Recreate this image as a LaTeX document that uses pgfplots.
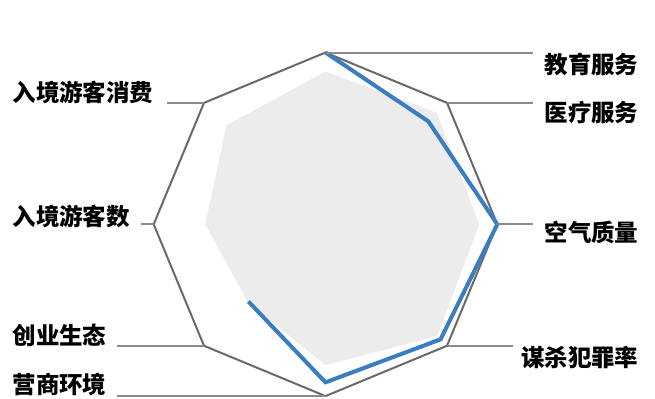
\documentclass[border=0pt]{standalone}
\usepackage{pgfplots}
\pgfplotsset{compat=1.18}
\usepgfplotslibrary{polar}
\usepackage{fontspec}
\newfontfamily\cjk{Noto Sans CJK SC}
\definecolor{gridc}{HTML}{696969}
\definecolor{leadc}{HTML}{8A8A8A}
\definecolor{bluec}{HTML}{3A7DC1}
\definecolor{fillc}{HTML}{ECECEC}
\begin{document}
\begin{tikzpicture}
\useasboundingbox (0,0) rectangle (327.5pt,199pt);
\begin{polaraxis}[
  at={(162.75pt,86.85pt)}, anchor=center,
  scale only axis, width=171.8pt, height=171.8pt,
  hide axis, clip=false,
  xmin=0, xmax=360, ymin=0, ymax=1,
]
% gray filled series
\addplot[draw=none, fill=fillc, mark=none] coordinates {
  (90,0.89) (45,0.917) (0,0.895) (315,0.92) (270,0.82) (225,0.64) (180,0.70) (135,0.815) (90,0.89)
} -- cycle;
% octagon outline
\addplot[gridc, line width=1pt, mark=none, line join=miter] coordinates {
  (90,1) (45,1) (0,1) (315,1) (270,1) (225,1) (180,1) (135,1) (90,1)
} -- cycle;
% blue series
\addplot[bluec, line width=2pt, mark=none, line join=miter] coordinates {
  (90,1.0) (45,0.847) (0,1.0) (315,0.947) (270,0.92) (225,0.635)
};
\coordinate (v90) at (axis cs:90,1);
\coordinate (v45) at (axis cs:45,1);
\coordinate (v0) at (axis cs:0,1);
\coordinate (v315) at (axis cs:315,1);
\coordinate (v270) at (axis cs:270,1);
\coordinate (v225) at (axis cs:225,1);
\coordinate (v180) at (axis cs:180,1);
\coordinate (v135) at (axis cs:135,1);
\end{polaraxis}
\begin{scope}[leadc, line width=1pt]
\draw (v90) -- (v90 -| 266.5pt,0);
\draw (v45) -- (v45 -| 266.5pt,0);
\draw (v0) -- (v0 -| 266.5pt,0);
\draw (v315) -- (v315 -| 256.5pt,0);
\draw (v135) -- (v135 -| 83.5pt,0);
\draw (v180) -- (v180 -| 70.5pt,0);
\draw (v225) -- (v225 -| 58.5pt,0);
\draw (v270) -- (v270 -| 58.5pt,0);
\end{scope}
\begin{scope}[every node/.style={inner sep=0pt, outer sep=0pt, font=\cjk\bfseries\fontsize{11.75pt}{12pt}\selectfont}]
\node[anchor=base east] at (319.25pt,162.5pt) {教育服务};
\node[anchor=base east] at (319.25pt,138.3pt) {医疗服务};
\node[anchor=base east] at (319.25pt,78.3pt) {空气质量};
\node[anchor=base east] at (319.25pt,15.8pt) {谋杀犯罪率};
\node[anchor=base west] at (6.25pt,148.3pt) {入境游客消费};
\node[anchor=base west] at (6.25pt,86.2pt) {入境游客数};
\node[anchor=base west] at (6.25pt,26.65pt) {创业生态};
\node[anchor=base west] at (6.25pt,2.3pt) {营商环境};
\end{scope}
\end{tikzpicture}
\end{document}
